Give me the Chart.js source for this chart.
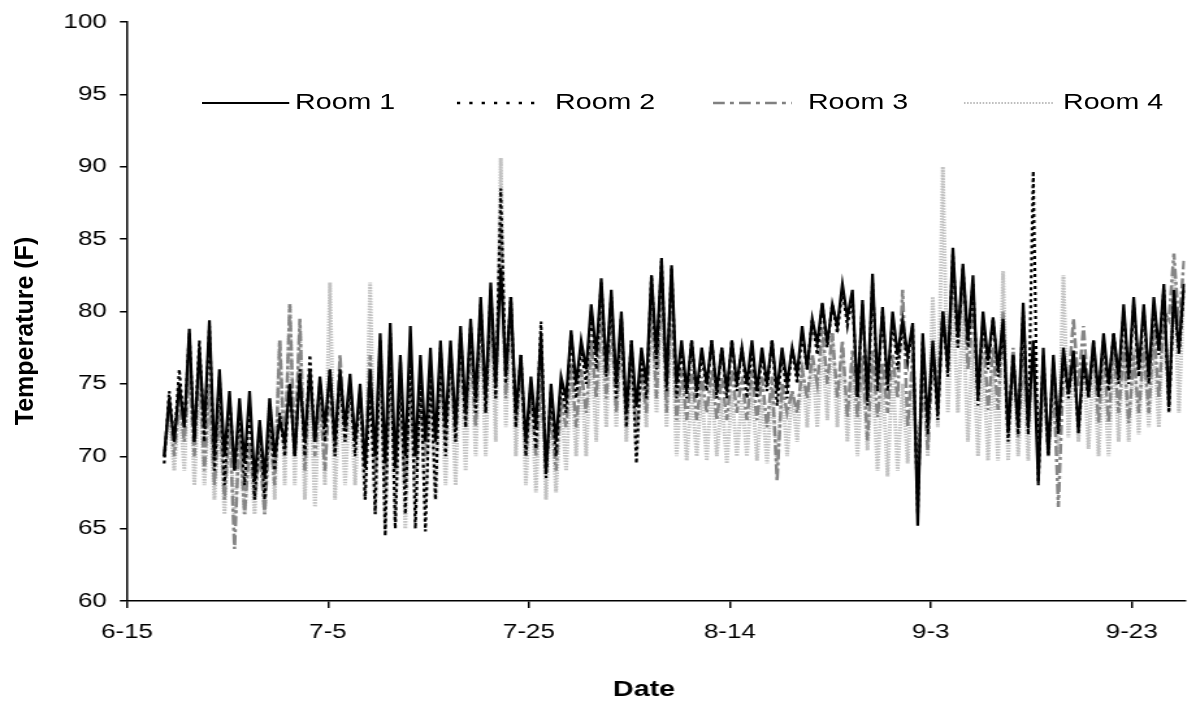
<!DOCTYPE html>
<html><head><meta charset="utf-8">
<script src="https://cdn.jsdelivr.net/npm/chart.js@4.4.1/dist/chart.umd.min.js"></script>
<style>
html,body{margin:0;padding:0;background:#fff;overflow:hidden;}
#wrap{position:absolute;left:0;top:0;width:920px;height:709px;transform:scaleX(1.3);transform-origin:0 0;}
#c{position:absolute;left:0;top:0;}
#legsvg{position:absolute;left:0;top:0;}
.lt{position:absolute;top:89px;font-family:"Liberation Sans",Arial,sans-serif;font-size:22px;line-height:26px;color:#000;white-space:nowrap;}
#ytitle{position:absolute;left:-126px;top:316px;width:300px;height:30px;line-height:30px;text-align:center;font-family:"Liberation Sans",Arial,sans-serif;font-size:25px;font-weight:bold;color:#000;transform:rotate(-90deg);transform-origin:50% 50%;white-space:nowrap;}
</style></head><body>
<div id="wrap">
<canvas id="c" width="920" height="709"></canvas>
<svg id="legsvg" width="920" height="709">
<line x1="155.4" y1="103" x2="222.5" y2="103" stroke="#000" stroke-width="2"/>
<line x1="351.5" y1="103" x2="418" y2="103" stroke="#000" stroke-width="2.5" stroke-dasharray="2.5 7"/>
<line x1="548.5" y1="103" x2="609" y2="103" stroke="#808080" stroke-width="2.5" stroke-dasharray="9 4 3 4"/>
<line x1="741.5" y1="103" x2="810" y2="103" stroke="#bdbdbd" stroke-width="2" stroke-dasharray="1.2 1.2"/>
</svg>
<div class="lt" style="left:227px">Room 1</div>
<div class="lt" style="left:427px">Room 2</div>
<div class="lt" style="left:621.5px">Room 3</div>
<div class="lt" style="left:817.7px">Room 4</div>
</div>
<div id="ytitle">Temperature (F)</div>
<script>
// x axis: days since 6-15
const tickDays = [0, 20, 40, 60, 80, 100];
const tickLabels = ["6-15", "7-5", "7-25", "8-14", "9-3", "9-23"];
const seriesNames = ["Room 1", "Room 2", "Room 3", "Room 4"];
const firstDay = 4; // daily low / high readings, days 4 .. 105

const room1Low = [70,71,72,71,72,70,70,69,69.5,68.3, 68.5,70,71,70,71,71,72,71,72,71, 69.2,70,69.5,69.2,70,70,71,71,72,72, 73,74,74,75,75.7,73,71,72,68.8,71, 74,75,76,77,76,75,73,73.4,75,77,
 75,75,74.5,74.5,75,74.5,74.5,75,75,74.5, 75,74.5,75,75.7,76,77.8,77.8,79,79.6,74.1, 74,75,75,77,77,65.2,72.3,73,76,78.2, 78,74,76.6,76,71.6,72,72,68.1,70.2,71.8, 74.3,71.8,74.3,74.3,75,75.5,75.5,76,75.5,77.3, 73.4,77.3];
const room1High = [74,75,78.8,77.5,79.4,76,74.5,74,74.5,72.5, 74,72.5,75,75.5,76,75.5,76,76,75.7,75, 76,78.5,79.2,77,79,77,77.5,78,78,79, 79.5,81,82,83,81,77,75.5,78.5,75,75.5, 78.7,78,80.5,82.3,81.5,80,78,77.5,82.5,83.7,
 83.2,78,78,77.5,78,77.5,78,77.5,78,77.5, 78,77.5,77.5,79,79.5,80.6,80.5,81.9,81.5,80.8, 82.6,80.3,80,79.4,79.2,78.5,78,80,84.4,83.3, 82.5,80,79.6,79.5,77,80.6,78,77.5,77,77.5, 77.3,77,78,78.5,78.5,80.5,81,80.5,81,81.9, 81.5,81.9];

const room2Low = [69.5,71,72,71,71,69,68,69,68,67, 67,69,70,70,70,71,71,70,71,70, 67,66,64.5,65,66,65,64.8,67,70,71, 72,73,73,74,75,72,70,70.5,68.5,70, 73,74,75,76,75.5,74,72,69.5,74,76,
 74.5,74,74,74,74.5,74,74,74.5,74,74, 74.5,73.5,74,75,76,77,77.5,78.5,79,74, 73.5,74.5,74.5,76,76.5,66,71.5,72.5,75.5,77.5, 77.5,73.5,76,75.5,71,71.5,71.5,68,70,71.5, 74,71.5,74,74,74.5,75,75,75.5,75,77, 73,77];
const room2High = [74.5,76,78.5,78,79,75.5,74,73,73.5,72, 73,73,75,76,77,75,76,75.5,75,74.5, 75,78,78.5,76,77.5,76,76,77.5,77.5,78.5, 79,80.5,81.5,88.5,81,77,75,79.3,74.5,75, 78.5,77.5,80,82,81,79.5,78,77,82.5,83.5,
 83,77.5,78,77,78,77.5,78,77.5,77.5,77, 78,77,77.5,78.5,79.5,80.5,80.5,81.5,81,80.5, 82,80,79.5,79,79,78,77.5,80,84,83, 82,79.5,79.5,79,77,80,89.7,77,76.5,77, 77,76.5,77.5,78,78.5,80,80.5,80,80.5,81.5, 81,81.5];

const room3Low = [70,70,71,70,69,68,67,63.6,66,67, 66,68,70,70,69,70,69,70,71,71, 70,69,68,69,68,69,70,71,71,71, 72,72,73,74,74,72,70,70,69,69, 72,72,73,74,74,73,72,72,73,74,
 73,72.5,72.5,72.5,73,72.5,72.5,73,72.5,72.5, 72,68.3,73,73,74,75,75,74,72.7,72.7, 71.1,72.7,73,74,72,67.4,70.4,75,77,77.5, 76,75.5,73.2,73.2,72,71.3,72,71.3,70,66.5, 74.8,74.8,74,72.3,72.3,73,72.3,73,73,74, 79.4,79];
const room3High = [73.5,74,76,76.5,75,73.5,72.5,72,71,70.5, 72,78,80.5,79.5,76,74,75,77,75,74, 77,77.5,76,75,75,74,75,76,76.5,77.5, 77.5,79,80,86,80.5,76,74.5,75,73,74, 76.5,76,78,80,79.5,78.5,77,76,81,82.5,
 81,76,76,75.5,76,75.5,76,75.5,76,75.5, 75.5,75,74.5,76,77,78.9,78.5,78,77.3,77, 77.3,76.5,77,81.5,77,76,77,80,82.6,82.3, 80,79.2,77.5,80,77.5,77,77.1,76,75.5,76, 79.5,79,78,77.5,77.5,77.5,77,77.5,79,80, 84,83.5];

const room4Low = [70,69,69,68,68,67,66,65.5,66,66, 66,67,68,68,67,66.5,68,67,68,68, 67,66,65,65.5,65,66,66.5,67,68,68, 69,70,70,71,72,70,68,67.5,67,67.5, 69,70,70,71,72,72,71,70,72,73,
 72,70,69.7,70,69.7,70,69.5,70,70,69.7, 69.5,69.5,70,71,72,72,72.5,72,71,70, 70.4,69,68.6,69,69.5,68.6,70,72,73,73, 71,70,69.7,69.7,69.7,70,69.7,69.7,70,70, 71.3,71,70.5,70,70,71,71,71.5,72,72, 73,73];
const room4High = [73,74,77.5,75.5,74,73,72.5,71.5,71,72, 74,78,80.5,79,76,75,82,75.5,74.5,74, 82,78,77,76.5,76,75,76,77,77,78, 78.5,79.5,80.5,90.6,81,77,75,76,73.5,74, 76,76,78,79,80,79.5,77,76,80.5,82,
 80,75.5,74.5,74.5,75,74,74.5,74,75,74, 74.5,75,74.5,76.5,77,78,78.5,77.5,76.5,76, 76,75.5,76,75,75.5,77,81,90,81,80, 78,77,76,82.8,77,76,78,75,74.5,82.5, 77,77,77,76.5,77,78,77.5,78,78,80, 83,82];

function buildPoints(low, high) {
  const pts = [];
  for (let i = 0; i < low.length; i++) {
    pts.push({x: firstDay + i - 0.3, y: low[i]});
    pts.push({x: firstDay + i + 0.2, y: high[i]});
  }
  return pts;
}

const fontFam = '"Liberation Sans", Arial, sans-serif';

new Chart(document.getElementById('c'), {
  type: 'line',
  data: {
    datasets: [
      {label: seriesNames[0], data: buildPoints(room1Low, room1High), borderColor: '#000', borderWidth: 2.2},
      {label: seriesNames[1], data: buildPoints(room2Low, room2High), borderColor: '#000', borderWidth: 2.2, borderDash: [3, 3]},
      {label: seriesNames[2], data: buildPoints(room3Low, room3High), borderColor: '#858585', borderWidth: 2.5, borderDash: [10, 3, 3, 3]},
      {label: seriesNames[3], data: buildPoints(room4Low, room4High), borderColor: '#c2c2c2', borderWidth: 3, borderDash: [1.5, 1.2]}
    ]
  },
  options: {
    responsive: false,
    animation: false,
    events: [],
    elements: {point: {radius: 0}, line: {tension: 0, fill: false}},
    layout: {padding: {left: 0, right: 8.5, top: 21, bottom: 0}},
    plugins: {legend: {display: false}, tooltip: {enabled: false}},
    scales: {
      x: {
        type: 'linear', min: 0, max: 105.3,
        afterBuildTicks: s => { s.ticks = tickDays.map(v => ({value: v})); },
        afterFit: s => { s.height = 108; },
        grid: {drawOnChartArea: false, drawTicks: true, tickLength: 7, color: '#000', lineWidth: 1.5},
        border: {color: '#000', width: 1.5},
        ticks: {
          callback: v => { const k = tickDays.indexOf(v); return k >= 0 ? tickLabels[k] : ''; },
          font: {family: fontFam, size: 20}, color: '#000', padding: 12, maxRotation: 0, autoSkip: false
        },
        title: {display: true, text: 'Date   ', font: {family: fontFam, size: 22, weight: 'bold'}, color: '#000', padding: {top: 0, bottom: 6}}
      },
      y: {
        min: 60, max: 100,
        afterFit: s => { s.width = 97.7; },
        grid: {drawOnChartArea: false, drawTicks: true, tickLength: 5.5, color: '#000', lineWidth: 1.5},
        border: {color: '#000', width: 1.5},
        ticks: {stepSize: 5, font: {family: fontFam, size: 20}, color: '#000', padding: 10},
        title: {display: false}
      }
    }
  }
});
</script>
</body></html>
